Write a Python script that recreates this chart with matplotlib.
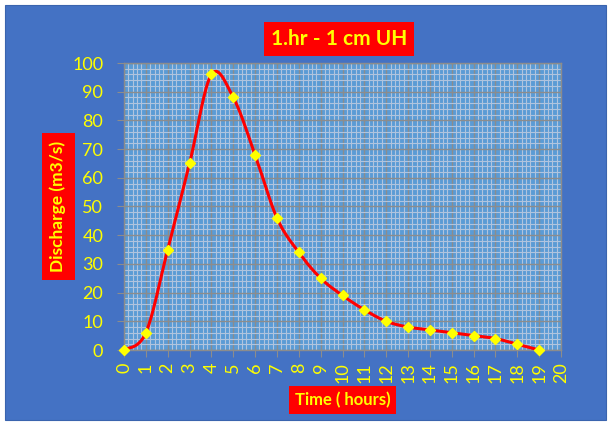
import numpy as np
import matplotlib
matplotlib.use("Agg")
import matplotlib.pyplot as plt
from matplotlib.ticker import MultipleLocator
from matplotlib.patches import Rectangle

# datos del hidrograma unitario
horas = [0, 1, 2, 3, 4, 5, 6, 7, 8, 9, 10, 11, 12, 13, 14, 15, 16, 17, 18, 19]
caudal = [0, 6, 35, 65, 96, 88, 68, 46, 34, 25, 19, 14, 10, 8, 7, 6, 5, 4, 2, 0]

azul_fondo = "#4472C4"
azul_plot = "#5B9BD5"
amarillo = "#FFFF00"
rojo = "#FF0000"

plt.rcParams["font.family"] = ["Lato", "DejaVu Sans"]


def suavizar(x, y, n=30):
    # curva suavizada tipo Excel (bezier con puntos de control de Catmull-Rom)
    x = np.asarray(x, float)
    y = np.asarray(y, float)
    xs, ys = [], []
    for i in range(len(x) - 1):
        x0, y0 = (x[i - 1], y[i - 1]) if i > 0 else (x[i], y[i])
        x3, y3 = (x[i + 2], y[i + 2]) if i + 2 < len(x) else (x[i + 1], y[i + 1])
        p1 = np.array([x[i], y[i]])
        p2 = np.array([x[i + 1], y[i + 1]])
        c1 = p1 + (p2 - np.array([x0, y0])) / 6
        c2 = p2 - (np.array([x3, y3]) - p1) / 6
        t = np.linspace(0, 1, n)[:, None]
        pts = (1 - t) ** 3 * p1 + 3 * (1 - t) ** 2 * t * c1 + 3 * (1 - t) * t ** 2 * c2 + t ** 3 * p2
        xs.extend(pts[:, 0])
        ys.extend(pts[:, 1])
    return np.array(xs), np.array(ys)


fig = plt.figure(figsize=(6.09, 4.23), dpi=100)
fig.patch.set_facecolor("white")
fig.patches.append(Rectangle((5 / 609, 3 / 423), 601 / 609, 415 / 423, transform=fig.transFigure,
                             facecolor=azul_fondo, edgecolor="#3A64AE", lw=0.8, zorder=-10))

ax = fig.add_axes([124 / 609, 1 - 350 / 423, 437 / 609, 287 / 423])
ax.set_zorder(2)
ax.set_facecolor(azul_plot)

xs, ys = suavizar(horas, caudal)
ax.plot(xs, ys, color=rojo, lw=2.2, zorder=3)
ax.plot(horas, caudal, linestyle="none", marker="D", markersize=5, color=amarillo, zorder=4, clip_on=False)

ax.set_xlim(0, 20)
ax.set_ylim(0, 100)
ax.xaxis.set_major_locator(MultipleLocator(1))
ax.xaxis.set_minor_locator(MultipleLocator(0.2))
ax.yaxis.set_major_locator(MultipleLocator(10))
ax.yaxis.set_minor_locator(MultipleLocator(2))

ax.grid(which="major", color="#8C8C8C", lw=1.0, zorder=1)
ax.grid(which="minor", color="#B0C4DE", lw=0.8, zorder=1)
ax.set_axisbelow(True)

for s in ax.spines.values():
    s.set_color("#8C8C8C")
    s.set_linewidth(1.0)

ax.tick_params(axis="both", which="major", colors="#8C8C8C", length=5, labelcolor=amarillo, labelsize=13)
ax.tick_params(axis="both", which="minor", length=0)
ax.tick_params(axis="y", pad=10)
ax.tick_params(axis="x", labelrotation=90, pad=4)

ax.set_ylabel("Discharge (m3/s)", color=amarillo, fontsize=12.5, fontweight="bold",
              bbox=dict(facecolor=rojo, edgecolor="none", pad=6), labelpad=4)
ax.set_xlabel("Time ( hours)", color=amarillo, fontsize=12, fontweight="bold",
              bbox=dict(facecolor=rojo, edgecolor="none", pad=4), labelpad=6)

fig.text(339 / 609, 1 - 39 / 423, "1.hr - 1 cm UH", color=amarillo, fontsize=15, fontweight="bold",
         ha="center", va="center", bbox=dict(facecolor=rojo, edgecolor="none", pad=5))

fig.savefig("out.png", dpi=100, facecolor=fig.get_facecolor())
